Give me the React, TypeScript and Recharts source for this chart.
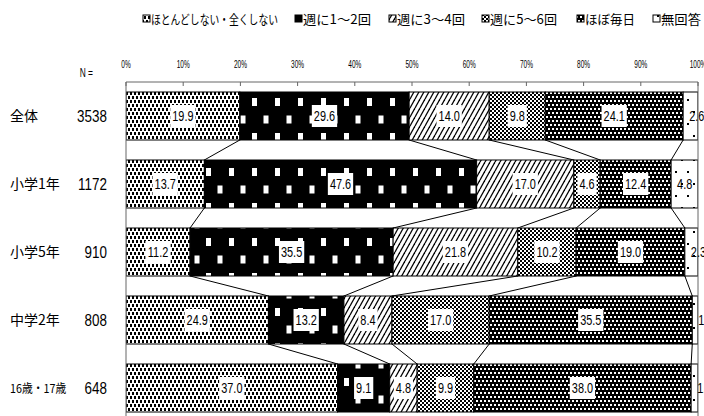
import React from 'react';
import { BarChart, Bar, XAxis, YAxis, LabelList, ReferenceLine, Legend } from 'recharts';

const categories = ['全体', '小学1年', '小学5年', '中学2年', '16歳・17歳'];
const sampleSizes = [3538, 1172, 910, 808, 648];
const seriesNames = ['ほとんどしない・全くしない', '週に1～2回', '週に3～4回', '週に5～6回', 'ほぼ毎日', '無回答'];
const rarely = [19.9, 13.7, 11.2, 24.9, 37.0];
const weekly12 = [29.6, 47.6, 35.5, 13.2, 9.1];
const weekly34 = [14.0, 17.0, 21.8, 8.4, 4.8];
const weekly56 = [9.8, 4.6, 10.2, 17.0, 9.9];
const daily = [24.1, 12.4, 19.0, 35.5, 38.0];
const noAnswer = [2.6, 4.8, 2.3, 1.0, 1.2];
const xTicks = [0, 10, 20, 30, 40, 50, 60, 70, 80, 90, 100];

const seriesValues = [rarely, weekly12, weekly34, weekly56, daily, noAnswer];
const keys = ['s0', 's1', 's2', 's3', 's4', 's5'];

const data = categories.map((name, i) => {
  const row: any = { name, n: sampleSizes[i] };
  keys.forEach((k, j) => { row[k] = seriesValues[j][i]; });
  return row;
});

const CW = 704;
const CH = 430;
const MARGIN = { top: 0, right: 6, bottom: 8, left: 0 };
const LEGEND_H = 30;
const XAXIS_H = 52;
const PLOT_H = CH - MARGIN.top - MARGIN.bottom - LEGEND_H - XAXIS_H;
const BAND = PLOT_H / categories.length;

const NUM_FONT = "'Liberation Sans', Arial, sans-serif";
const JP_FONT = "'Noto Sans CJK JP', 'Noto Sans', sans-serif";

const legendLayout = [
  { x: 143, w: 127 },
  { x: 295, w: 68 },
  { x: 389, w: 68 },
  { x: 482, w: 67 },
  { x: 577, w: 50 },
  { x: 653, w: 40 },
];
const LEGEND_FS = 13;

const naturalWidth = (s: string, fs: number) => {
  let w = 0;
  for (const c of s) w += /[0-9]/.test(c) ? 0.55 * fs : fs;
  return w;
};

const NarrowText = ({ x, y, sx, size, anchor, children }: any) => (
  <text
    transform={`translate(${x},${y}) scale(${sx},1)`}
    textAnchor={anchor || 'start'}
    fontFamily={NUM_FONT}
    fontSize={size}
    fill="#000"
  >
    {children}
  </text>
);

const Patterns = () => (
  <defs>
    <pattern id="pat0" patternUnits="userSpaceOnUse" width="4" height="8">
      <rect width="4" height="8" fill="#fff" />
      <rect x="0" y="0" width="2" height="3" fill="#000" />
      <rect x="2" y="4" width="2" height="3" fill="#000" />
    </pattern>
    <pattern id="pat1" patternUnits="userSpaceOnUse" x="-1" y="-7" width="23" height="35">
      <rect width="23" height="35" fill="#000" />
      <rect x="0" y="0" width="5" height="8" fill="#fff" />
      <rect x="11.5" y="17.5" width="5" height="8" fill="#fff" />
    </pattern>
    <pattern id="pat2" patternUnits="userSpaceOnUse" width="5" height="9">
      <rect width="5" height="9" fill="#fff" />
      <line x1="0" y1="9" x2="5" y2="0" stroke="#000" strokeWidth="1.3" />
      <line x1="-5" y1="9" x2="0" y2="0" stroke="#000" strokeWidth="1.3" />
      <line x1="5" y1="9" x2="10" y2="0" stroke="#000" strokeWidth="1.3" />
    </pattern>
    <pattern id="pat3" patternUnits="userSpaceOnUse" width="4" height="4">
      <rect width="4" height="4" fill="#fff" />
      <rect x="0" y="0" width="2" height="2" fill="#000" />
      <rect x="2" y="2" width="2" height="2" fill="#000" />
    </pattern>
    <pattern id="pat4" patternUnits="userSpaceOnUse" width="4" height="8">
      <rect width="4" height="8" fill="#000" />
      <rect x="0" y="0" width="2" height="2" fill="#fff" />
      <rect x="2" y="4" width="2" height="2" fill="#fff" />
    </pattern>
    <pattern id="pat5" patternUnits="userSpaceOnUse" width="12" height="24">
      <rect width="12" height="24" fill="#fff" />
      <rect x="3" y="3" width="2" height="2" fill="#000" />
      <rect x="9" y="15" width="2" height="2" fill="#000" />
    </pattern>
  </defs>
);

const makeShape = (k: number) => (props: any) => {
  const { x, y, width, height, index, payload } = props;
  const val = payload[keys[k]];
  const ppu = val ? width / val : 0;
  let cumCur = 0;
  for (let j = 0; j <= k; j++) cumCur += payload[keys[j]];
  const x0 = x + width - cumCur * ppu;
  let connector = null;
  if (k < keys.length - 1 && index < data.length - 1) {
    const next = data[index + 1];
    let cumNext = 0;
    for (let j = 0; j <= k; j++) cumNext += next[keys[j]];
    connector = (
      <line x1={x + width} y1={y + height} x2={x0 + cumNext * ppu} y2={y + BAND} stroke="#000" strokeWidth={1} />
    );
  }
  return (
    <g>
      <rect x={x} y={y} width={width} height={height} fill={`url(#pat${k})`} stroke="#000" strokeWidth={1} />
      {connector}
    </g>
  );
};

const LABEL_SX = 0.78;
const textWidth = (s: string) => {
  let w = 0;
  for (const c of s) w += c === '.' ? 3.9 : 7.8;
  return w * LABEL_SX;
};

const makeLabel = (k: number) => (props: any) => {
  const vb = props.viewBox || props;
  const { x, y, width, height } = vb;
  const s = Number(props.value).toFixed(1);
  const cy = y + height / 2;
  if (k === keys.length - 1) {
    return <NarrowText x={x + 6} y={cy + 5} sx={LABEL_SX} size={14}>{s}</NarrowText>;
  }
  const tw = textWidth(s);
  const cx = x + width / 2;
  return (
    <g>
      <rect x={cx - tw / 2 - 2} y={cy - 11} width={tw + 4} height={22} fill="#fff" />
      <NarrowText x={cx} y={cy + 5} sx={LABEL_SX} size={14} anchor="middle">{s}</NarrowText>
    </g>
  );
};

const XTick = (props: any) => {
  const { x, y, payload } = props;
  return (
    <g>
      <NarrowText x={x} y={y - 14} sx={0.62} size={10.5} anchor="middle">{`${payload.value}%`}</NarrowText>
      <line x1={x} x2={x} y1={y} y2={y + 4} stroke="#666" />
    </g>
  );
};

const YTick = (props: any) => {
  const { y, payload, index } = props;
  const i = categories.indexOf(payload.value);
  const small = payload.value.length > 5;
  return (
    <g>
      {index === 0 && (
        <NarrowText x={93} y={y - 39} sx={0.7} size={12} anchor="end">N =</NarrowText>
      )}
      {small ? (
        <text
          transform={`translate(10,${y + 5}) scale(0.78,1)`}
          fontFamily={JP_FONT}
          fontSize={12}
          fill="#000"
          textLength={72}
          lengthAdjust="spacingAndGlyphs"
        >
          {payload.value}
        </text>
      ) : (
        <text x={10} y={y + 5} fontFamily={JP_FONT} fontSize={14} fill="#000">{payload.value}</text>
      )}
      <NarrowText x={107} y={y + 6} sx={0.84} size={16} anchor="end">{sampleSizes[i]}</NarrowText>
    </g>
  );
};

const LegendContent = () => (
  <svg width={CW} height={LEGEND_H} style={{ display: 'block' }}>
    {seriesNames.map((name, k) => {
      const nat = naturalWidth(name, LEGEND_FS);
      const sx = legendLayout[k].w / nat;
      return (
        <g key={name}>
          <rect x={legendLayout[k].x} y={15} width={7} height={7} fill={`url(#pat${k})`} stroke="#000" strokeWidth={1} />
          <text
            transform={`translate(${legendLayout[k].x + 8},24) scale(${sx},1)`}
            fontFamily={JP_FONT}
            fontSize={LEGEND_FS}
            fill="#000"
            textLength={nat}
            lengthAdjust="spacingAndGlyphs"
          >
            {name}
          </text>
        </g>
      );
    })}
  </svg>
);

export default function App() {
  return (
    <div style={{ position: 'absolute', left: 0, top: 0, width: CW, height: 416, overflow: 'hidden', background: '#fff' }}>
      <svg width={0} height={0} style={{ position: 'absolute' }}>
        <Patterns />
      </svg>
      <BarChart width={CW} height={CH} data={data} layout="vertical" margin={MARGIN} barSize={48}>
        <Patterns />
        <Legend
          verticalAlign="top"
          align="left"
          height={LEGEND_H}
          content={<LegendContent />}
          wrapperStyle={{ left: 0, top: 0, width: CW, height: LEGEND_H }}
        />
        <XAxis
          type="number"
          orientation="top"
          domain={[0, 100]}
          ticks={xTicks}
          interval={0}
          height={XAXIS_H}
          tickSize={0}
          tickMargin={0}
          tick={<XTick />}
          axisLine={{ stroke: '#666' }}
          allowDataOverflow
        />
        <YAxis
          type="category"
          dataKey="name"
          width={126}
          tickLine={false}
          tick={<YTick />}
          axisLine={{ stroke: '#666' }}
        />
        <ReferenceLine x={100} stroke="#666" strokeWidth={1} />
        {keys.map((key, k) => (
          <Bar key={key} dataKey={key} name={seriesNames[k]} stackId="a" isAnimationActive={false} shape={makeShape(k)}>
            <LabelList dataKey={key} content={makeLabel(k)} />
          </Bar>
        ))}
      </BarChart>
    </div>
  );
}
